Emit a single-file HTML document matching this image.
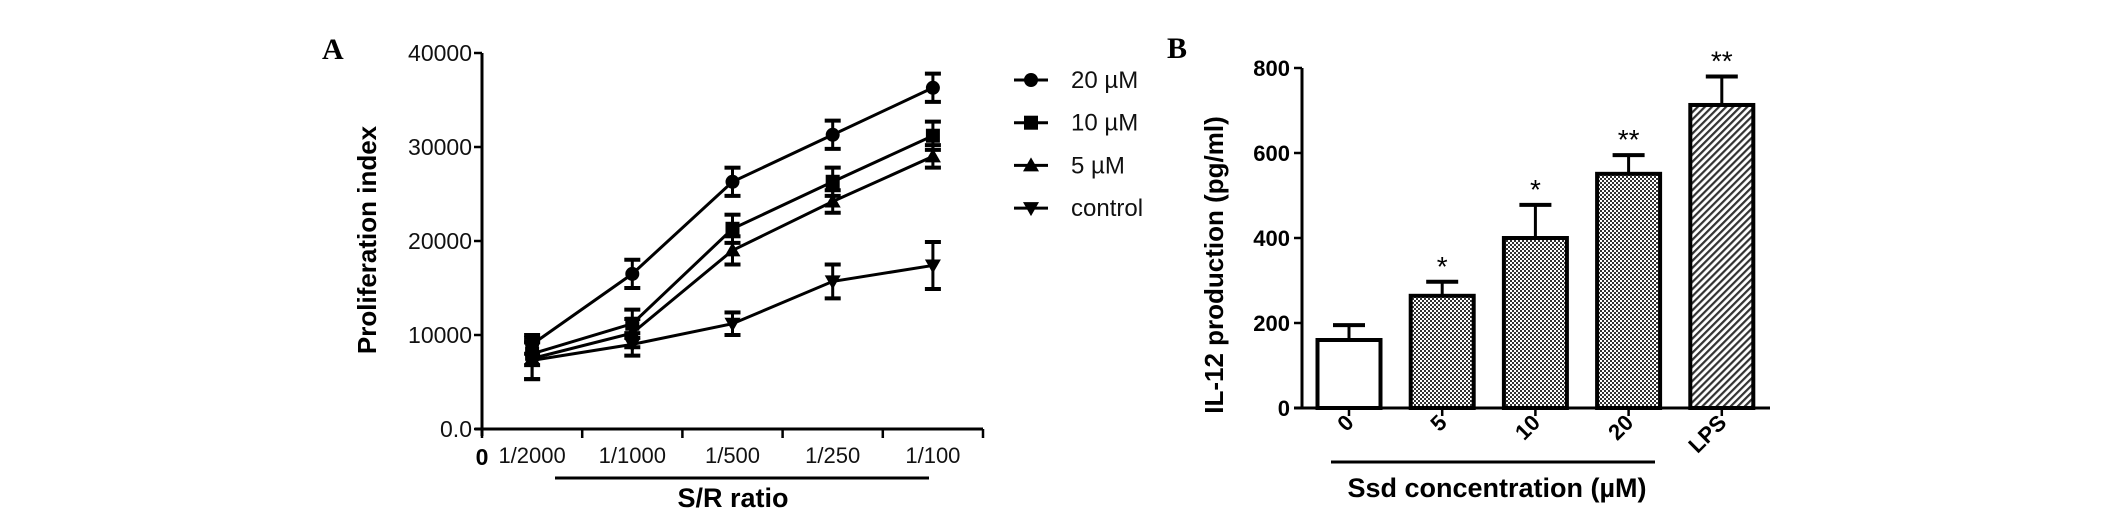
<!DOCTYPE html>
<html><head><meta charset="utf-8"><style>
html,body{margin:0;padding:0;background:#fff;}
svg{display:block;font-family:"Liberation Sans",Arial,sans-serif;}
</style></head><body>
<svg id="fig" width="2126" height="522" viewBox="0 0 2126 522" xmlns="http://www.w3.org/2000/svg">
<defs>
<pattern id="dots" width="4" height="4" patternUnits="userSpaceOnUse">
<rect width="4" height="4" fill="#333"/><rect x="0" y="0" width="2" height="2" fill="#fff"/><rect x="2" y="2" width="2" height="2" fill="#fff"/>
</pattern>
<pattern id="hatch" width="5" height="5" patternUnits="userSpaceOnUse" patternTransform="rotate(45)">
<rect width="5" height="5" fill="#fff"/><rect width="2.2" height="5" fill="#333"/>
</pattern>
</defs>
<text x="322" y="59" font-family="Liberation Serif,serif" font-weight="bold" font-size="30">A</text>
<text x="1167" y="58" font-family="Liberation Serif,serif" font-weight="bold" font-size="30">B</text>
<g id="chartA"></g>
<g id="chartB"></g>
</svg>
<script>
// ---- Chart A data ----
const catsA = ["1/2000","1/1000","1/500","1/250","1/100"];
const yTicksA = [0,10000,20000,30000,40000];
const yTickLabelsA = ["0.0","10000","20000","30000","40000"];
const seriesNames = ["20 µM","10 µM","5 µM","control"];
const s20 = [9000,16500,26300,31300,36300];
const s10 = [8000,11200,21300,26300,31200];
const s5 = [7500,10200,19000,24200,29000];
const sCtl = [7300,9000,11200,15700,17400];
const e20 = [1000,1500,1500,1500,1500];
const e10 = [1200,1500,1500,1500,1500];
const e5 = [2200,1500,1500,1200,1200];
const eCtl = [2000,1200,1200,1800,2500];
// ---- Chart B data ----
const catsB = ["0","5","10","20","LPS"];
const valsB = [160,264,400,551,713];
const errsB = [35,33,78,44,67];
const starsB = ["","*","*","**","**"];
const yTicksB = [0,200,400,600,800];

const NS="http://www.w3.org/2000/svg";
function mk(p,tag,attrs,txt){const e=document.createElementNS(NS,tag);for(const k in attrs)e.setAttribute(k,attrs[k]);if(txt!==undefined)e.textContent=txt;p.appendChild(e);return e;}

// Chart A
const A=document.getElementById('chartA');
const ax0=482, ax1=983, ay0=429, ay1=53;
const xA=i=>ax0+(ax1-ax0)/catsA.length*(i+0.5);
const yA=v=>ay0-(v/40000)*(ay0-ay1);
let el;
el=mk(A,'line',{x1:ax0,y1:ay1,x2:ax0,y2:ay0+7,stroke:'#000','stroke-width':3});

el=mk(A,'line',{x1:ax0-7,y1:ay0,x2:ax1,y2:ay0,stroke:'#000','stroke-width':3});

for(let i=0;i<=catsA.length;i++){const x=ax0+(ax1-ax0)/catsA.length*i;mk(A,'line',{x1:x,y1:ay0,x2:x,y2:ay0+9,stroke:'#000','stroke-width':2.5});}
yTicksA.forEach((v,i)=>{const y=yA(v);mk(A,'line',{x1:ax0-8,y1:y,x2:ax0,y2:y,stroke:'#000','stroke-width':2.5});
 el=mk(A,'text',{x:ax0-10,y:y+8,'text-anchor':'end','font-size':23,fill:'#111'},yTickLabelsA[i]);
 });
el=mk(A,'text',{x:ax0,y:ay0+36,'text-anchor':'middle','font-size':23,'font-weight':'bold'},'0');

catsA.forEach((c,i)=>{el=mk(A,'text',{x:xA(i),y:ay0+34,'text-anchor':'middle','font-size':22,fill:'#111'},c);
 });
el=mk(A,'line',{x1:555,y1:478,x2:929,y2:478,stroke:'#000','stroke-width':3});

el=mk(A,'text',{x:733,y:507,'text-anchor':'middle','font-size':27,'font-weight':'bold'},'S/R ratio');

el=mk(A,'text',{x:0,y:0,'text-anchor':'middle','font-size':26,'font-weight':'bold',transform:'translate(376,240) rotate(-90)'},'Proliferation index');

function marker(p,type,x,y){
 if(type==0)return mk(p,'circle',{cx:x,cy:y,r:7,fill:'#000'});
 if(type==1)return mk(p,'rect',{x:x-7,y:y-7,width:14,height:14,fill:'#000'});
 if(type==2)return mk(p,'polygon',{points:`${x-8},${y+6} ${x+8},${y+6} ${x},${y-8}`,fill:'#000'});
 return mk(p,'polygon',{points:`${x-8},${y-6} ${x+8},${y-6} ${x},${y+8}`,fill:'#000'});
}
const allS=[s20,s10,s5,sCtl], allE=[e20,e10,e5,eCtl];
allS.forEach((s,k)=>{
 const g=mk(A,'g',{});
 
 
 el=mk(g,'polyline',{points:s.map((v,i)=>xA(i)+','+yA(v)).join(' '),fill:'none',stroke:'#000','stroke-width':3});
 
 s.forEach((v,i)=>{const x=xA(i),e=allE[k][i];
  mk(g,'line',{x1:x,y1:yA(v+e),x2:x,y2:yA(v-e),stroke:'#000','stroke-width':3});
  mk(g,'line',{x1:x-8,y1:yA(v+e),x2:x+8,y2:yA(v+e),stroke:'#000','stroke-width':4});
  mk(g,'line',{x1:x-8,y1:yA(v-e),x2:x+8,y2:yA(v-e),stroke:'#000','stroke-width':4});
  el=marker(g,k,x,yA(v));});
});
seriesNames.forEach((n,k)=>{const y=80+k*42.7;const g=mk(A,'g',{});
 
 mk(g,'line',{x1:1014,y1:y,x2:1048,y2:y,stroke:'#000','stroke-width':3});marker(g,k,1031,y);
 mk(g,'text',{x:1071,y:y+8,'font-size':24,fill:'#111'},n);});

// Chart B
const B=document.getElementById('chartB');
const bx0=1302,bx1=1770,by0=408,by1=68;
const step=93.2, bw=63;
const xB=i=>1349+i*step;
const yB=v=>by0-(v/800)*(by0-by1);
el=mk(B,'line',{x1:bx0,y1:by1,x2:bx0,y2:by0,stroke:'#000','stroke-width':3});

el=mk(B,'line',{x1:bx0-8,y1:by0,x2:bx1,y2:by0,stroke:'#000','stroke-width':3});

yTicksB.forEach(v=>{const y=yB(v);mk(B,'line',{x1:bx0-8,y1:y,x2:bx0,y2:y,stroke:'#000','stroke-width':2.5});
 el=mk(B,'text',{x:bx0-12,y:y+8,'text-anchor':'end','font-size':22,'font-weight':'bold'},String(v));
 });
const fills=['#fff','url(#dots)','url(#dots)','url(#dots)','url(#hatch)'];
catsB.forEach((c,i)=>{const x=xB(i),v=valsB[i],e=errsB[i];
 mk(B,'line',{x1:x,y1:yB(v),x2:x,y2:yB(v+e),stroke:'#000','stroke-width':3});
 mk(B,'line',{x1:x-16,y1:yB(v+e),x2:x+16,y2:yB(v+e),stroke:'#000','stroke-width':4});
 el=mk(B,'rect',{x:x-bw/2,y:yB(v),width:bw,height:by0-yB(v),fill:fills[i],stroke:'#000','stroke-width':4});
 
 if(starsB[i]){el=mk(B,'text',{x:x,y:yB(v+e)-6,'text-anchor':'middle','font-size':28},starsB[i]);
  }
 mk(B,'line',{x1:x,y1:by0,x2:x,y2:by0+8,stroke:'#000','stroke-width':2.5});
 el=mk(B,'text',{x:0,y:0,'text-anchor':'end','font-size':22,'font-weight':'bold',transform:`translate(${x+6},${by0+16}) rotate(-45)`},c);
 
});
el=mk(B,'line',{x1:1331,y1:462,x2:1655,y2:462,stroke:'#000','stroke-width':3});

el=mk(B,'text',{x:1497,y:497,'text-anchor':'middle','font-size':27,'font-weight':'bold'},'Ssd concentration (µM)');

el=mk(B,'text',{x:0,y:0,'text-anchor':'middle','font-size':26,'font-weight':'bold',transform:'translate(1223,265) rotate(-90)'},'IL-12 production (pg/ml)');

</script>
</body></html>
